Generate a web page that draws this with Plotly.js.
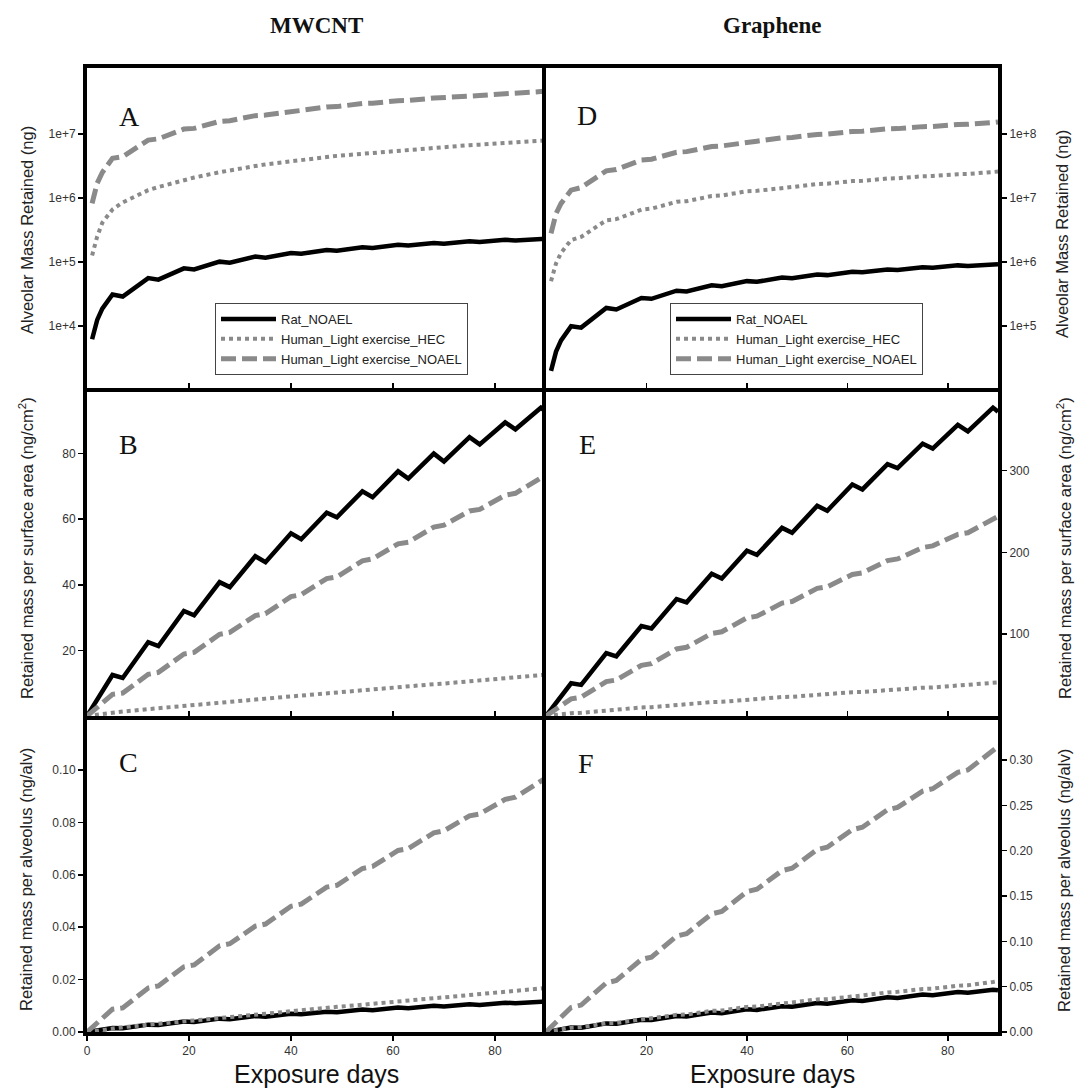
<!DOCTYPE html>
<html><head><meta charset="utf-8">
<script src="https://cdn.plot.ly/plotly-3.0.1.min.js"></script>
<style>html,body{margin:0;padding:0;background:#fff}#chart{width:1075px;height:1089px}</style>
</head><body><div id="chart"></div>
<script>
// Exposure days (day 0 used only on linear panels)
const days = [0,1,2,3,5,7,12,14,19,21,26,28,33,35,40,42,47,49,54,56,61,63,68,70,75,77,82,84,89,90];
const seriesNames = ["Rat_NOAEL", "Human_Light exercise_HEC", "Human_Light exercise_NOAEL"];
const columnTitles = ["MWCNT", "Graphene"];
const panelLetters = ["A", "B", "C", "D", "E", "F"];

// ---- MWCNT: alveolar mass retained (ng), from day 1 ----
const ratMW_mass   = [6.2e3,1.24e4,1.86e4,3.1e4,2.88e4,5.58e4,5.28e4,7.94e4,7.61e4,1.01e5,9.75e4,1.21e5,1.16e5,1.38e5,1.34e5,1.54e5,1.50e5,1.70e5,1.65e5,1.85e5,1.80e5,1.98e5,1.92e5,2.11e5,2.05e5,2.22e5,2.17e5,2.33e5,2.30e5];
const hecMW_mass   = [1.26e5,2.5e5,4.1e5,6.6e5,8.5e5,1.32e6,1.48e6,1.89e6,2.08e6,2.52e6,2.71e6,3.15e6,3.34e6,3.78e6,3.97e6,4.35e6,4.54e6,4.91e6,5.10e6,5.54e6,5.67e6,6.11e6,6.24e6,6.68e6,6.80e6,7.25e6,7.37e6,7.81e6,7.94e6];
const noaelMW_mass = [8.2e5,1.7e6,2.5e6,4.16e6,4.41e6,8.0e6,8.38e6,1.19e7,1.22e7,1.57e7,1.61e7,1.93e7,1.97e7,2.29e7,2.33e7,2.64e7,2.67e7,2.98e7,3.02e7,3.31e7,3.34e7,3.63e7,3.67e7,3.94e7,3.97e7,4.24e7,4.28e7,4.58e7,4.63e7];
// ---- MWCNT: retained mass per surface area (ng/cm2) ----
const ratMW_area   = [0,2.5,5,7.5,12.5,11.6,22.5,21.3,32,30.7,40.8,39.3,48.7,46.9,55.7,53.9,62,60.6,68.5,66.7,74.6,72.4,80,77.6,85,82.8,89.5,87.4,94,92.8];
const hecMW_area   = [0,0.2,0.4,0.65,1.05,1.35,2.1,2.35,3.0,3.3,4.0,4.3,5.0,5.3,6.0,6.3,6.9,7.2,7.8,8.1,8.8,9.0,9.7,9.9,10.6,10.8,11.5,11.7,12.4,12.6];
const noaelMW_area = [0,1.3,2.7,4.0,6.6,7.0,12.7,13.3,18.9,19.4,24.9,25.5,30.6,31.2,36.4,37.0,41.9,42.4,47.3,47.9,52.5,53.0,57.6,58.2,62.5,63.0,67.3,67.9,72.7,73.5];
// ---- MWCNT: retained mass per alveolus (ng/alv) ----
const ratMW_alv   = [0,0.0003,0.0006,0.00094,0.00156,0.00145,0.00281,0.00266,0.0040,0.00384,0.0051,0.00491,0.00609,0.00586,0.00696,0.00674,0.00775,0.00758,0.00856,0.00834,0.00933,0.00905,0.0100,0.0097,0.01063,0.01035,0.01119,0.01093,0.01175,0.0116];
const hecMW_alv   = [0,0.00027,0.00053,0.00086,0.0014,0.0018,0.0028,0.0031,0.0040,0.0044,0.0053,0.0057,0.0067,0.0070,0.0080,0.0084,0.0092,0.0096,0.0104,0.0108,0.0117,0.0120,0.0129,0.0132,0.0141,0.0144,0.0153,0.0156,0.0165,0.0168];
const noaelMW_alv = [0,0.0017,0.0036,0.0053,0.0087,0.0092,0.0168,0.0176,0.0249,0.0256,0.0329,0.0337,0.0404,0.0412,0.0480,0.0488,0.0553,0.0560,0.0624,0.0632,0.0693,0.0700,0.0760,0.0768,0.0825,0.0832,0.0888,0.0896,0.0960,0.0970];

// ---- Graphene: alveolar mass retained (ng), from day 1 ----
const ratGR_mass   = [1.98e4,3.97e4,5.95e4,9.9e4,9.4e4,1.91e5,1.81e5,2.73e5,2.65e5,3.55e5,3.45e5,4.32e5,4.17e5,5.01e5,4.89e5,5.70e5,5.56e5,6.37e5,6.22e5,7.02e5,6.87e5,7.64e5,7.51e5,8.26e5,8.11e5,8.83e5,8.63e5,9.35e5,9.23e5];
const hecGR_mass   = [5.0e5,9.5e5,1.39e6,2.2e6,2.46e6,4.47e6,4.66e6,6.55e6,6.80e6,8.69e6,8.88e6,1.07e7,1.09e7,1.27e7,1.29e7,1.46e7,1.48e7,1.65e7,1.67e7,1.83e7,1.85e7,2.01e7,2.03e7,2.18e7,2.20e7,2.35e7,2.37e7,2.54e7,2.58e7];
const noaelGR_mass = [2.8e6,5.7e6,8.2e6,1.32e7,1.45e7,2.65e7,2.77e7,3.91e7,4.03e7,5.17e7,5.29e7,6.36e7,6.49e7,7.56e7,7.69e7,8.69e7,8.82e7,9.83e7,9.95e7,1.09e8,1.10e8,1.20e8,1.21e8,1.30e8,1.31e8,1.40e8,1.41e8,1.51e8,1.54e8];
// ---- Graphene: retained mass per surface area (ng/cm2) ----
const ratGR_area   = [0,8,16,24,40,38,77,73,110,107,143,139,174,168,202,197,230,224,257,251,283,277,308,303,333,327,356,348,377,372];
const hecGR_area   = [0,0.8,1.5,2.2,3.5,3.9,7.1,7.4,10.4,10.8,13.8,14.1,17.0,17.3,20.2,20.5,23.2,23.5,26.2,26.5,29.1,29.4,31.9,32.3,34.6,34.9,37.3,37.6,40.3,41.0];
const noaelGR_area = [0,4.5,9,13,21,23,42,44,62,64,82,84,101,103,120,122,138,140,156,158,173,175,190,192,206,208,222,224,240,244];
// ---- Graphene: retained mass per alveolus (ng/alv) ----
const ratGR_alv   = [0,0.0010,0.0020,0.0030,0.0050,0.0047,0.0095,0.0091,0.0136,0.0133,0.0177,0.0172,0.0216,0.0208,0.0250,0.0244,0.0285,0.0278,0.0319,0.0311,0.0351,0.0343,0.0382,0.0376,0.0413,0.0405,0.0441,0.0432,0.0467,0.0461];
const hecGR_alv   = [0,0.0011,0.0021,0.0030,0.0048,0.0053,0.0097,0.0101,0.0142,0.0148,0.0189,0.0193,0.0233,0.0237,0.0277,0.0281,0.0318,0.0322,0.0359,0.0363,0.0399,0.0403,0.0437,0.0443,0.0474,0.0478,0.0511,0.0515,0.0552,0.0562];
const noaelGR_alv = [0,0.0058,0.0116,0.0168,0.0271,0.0297,0.0542,0.0568,0.080,0.0826,0.1058,0.1084,0.1303,0.1329,0.1548,0.1574,0.178,0.1806,0.2012,0.2038,0.2232,0.2258,0.2451,0.2477,0.2657,0.2683,0.2864,0.289,0.3096,0.3148];

// tick values / labels
const xTicksLeft = [0,20,40,60,80];
const xTicksRight = [20,40,60,80];
const logTicksA = [1e4,1e5,1e6,1e7], logTextA = ["1e+4","1e+5","1e+6","1e+7"];
const logTicksD = [1e5,1e6,1e7,1e8], logTextD = ["1e+5","1e+6","1e+7","1e+8"];
const ticksB = [20,40,60,80], ticksE = [100,200,300];
const ticksC = [0,0.02,0.04,0.06,0.08,0.10], ticksF = [0,0.05,0.10,0.15,0.20,0.25,0.30];

// ---------------- layout helpers ----------------
const W = 1075, H = 1089;
const px = v => v / W, py = v => 1 - v / H;
const xL = [px(87), px(546)], xR = [px(546), px(998)];
const yTop = [py(388), py(68)], yMid = [py(716), py(388)], yBot = [py(1032), py(716)];
const daysLog = days.slice(1);

const GREY = '#8a8a8a';
const styles = [
  {color:'#000', width:4.5, dash:'solid'},
  {color:GREY, width:4, dash:'dot'},
  {color:GREY, width:5, dash:'15px,6px'}
];
function mk(x, ys, xa, ya, legend, show) {
  return ys.map((y, i) => ({
    type:'scatter', mode:'lines', x:x, y:y, xaxis:xa, yaxis:ya,
    name:seriesNames[i], line:styles[i], showlegend:show, legend:legend,
    hoverinfo:'skip'
  }));
}
const data = [].concat(
  mk(daysLog, [ratMW_mass, hecMW_mass, noaelMW_mass], 'x', 'y', 'legend', true),
  mk(days, [ratMW_area, hecMW_area, noaelMW_area], 'x2', 'y2', 'legend', false),
  mk(days, [ratMW_alv, hecMW_alv, noaelMW_alv], 'x3', 'y3', 'legend', false),
  mk(daysLog, [ratGR_mass, hecGR_mass, noaelGR_mass], 'x4', 'y4', 'legend2', true),
  mk(days, [ratGR_area, hecGR_area, noaelGR_area], 'x5', 'y5', 'legend2', false),
  mk(days, [ratGR_alv, hecGR_alv, noaelGR_alv], 'x6', 'y6', 'legend2', false)
);

const SANS = 'Liberation Sans, Arial, sans-serif';
const SERIF = 'Liberation Serif, Times New Roman, serif';
const tickfont = {family:SANS, size:12, color:'#333'};
const base = {showline:true, linecolor:'#000', linewidth:4, showgrid:false,
  zeroline:false, ticklen:5, tickwidth:1.5, tickcolor:'#000', tickfont:tickfont, fixedrange:true};
function xa(domain, anchor, bottom, mirror, vals) {
  return Object.assign({}, base, {domain:domain, anchor:anchor, range:[0,90], mirror:mirror,
    tickvals:vals, tickmode:'array',
    ticks: bottom ? 'outside' : 'inside', showticklabels: bottom});
}
function ya(domain, anchor, side, mirror, extra) {
  return Object.assign({}, base, {domain:domain, anchor:anchor, side:side, mirror:mirror,
    ticks:'outside', tickmode:'array'}, extra);
}

const legendBase = {xanchor:'left', yanchor:'top', bgcolor:'#fff', bordercolor:'#444', borderwidth:1,
  font:{family:SANS, size:13, color:'#222'}, itemwidth:55, tracegroupgap:0, orientation:'v'};

const ann = [];
function addText(text, x, y, font, angle) {
  ann.push({text:text, x:px(x), y:py(y), xref:'paper', yref:'paper', showarrow:false,
    xanchor:'center', yanchor:'middle', font:font, textangle:angle || 0});
}
const letterFont = {family:SERIF, size:28, color:'#111'};
addText(panelLetters[0], 129, 116, letterFont);
addText(panelLetters[1], 128, 445, letterFont);
addText(panelLetters[2], 128, 762, letterFont);
addText(panelLetters[3], 587, 115, letterFont);
addText(panelLetters[4], 587, 445, letterFont);
addText(panelLetters[5], 586, 763, letterFont);
const colFont = {family:SERIF, size:23, color:'#111'};
addText('<b>' + columnTitles[0] + '</b>', 316, 25, colFont);
addText('<b>' + columnTitles[1] + '</b>', 772, 25, colFont);
const yTitleFont = {family:SANS, size:16.5, color:'#222'};
const yTitles = ['Alveolar Mass Retained (ng)', 'Retained mass per surface area (ng/cm<sup>2</sup>)', 'Retained mass per alveolus (ng/alv)'];
addText(yTitles[0], 27, 230, yTitleFont, -90);
addText(yTitles[1], 26, 548, yTitleFont, -90);
addText(yTitles[2], 26, 880, yTitleFont, -90);
addText(yTitles[0], 1062, 234, yTitleFont, -90);
addText(yTitles[1], 1064, 548, yTitleFont, -90);
addText(yTitles[2], 1064, 881, yTitleFont, -90);
const xTitleFont = {family:SANS, size:25, color:'#111'};
addText('Exposure days', 316, 1074, xTitleFont);
addText('Exposure days', 772, 1074, xTitleFont);

const layout = {
  width:W, height:H, margin:{l:0, r:0, t:0, b:0}, paper_bgcolor:'#fff', plot_bgcolor:'#fff',
  showlegend:true,
  legend: Object.assign({}, legendBase, {x:px(215), y:py(303)}),
  legend2: Object.assign({}, legendBase, {x:px(670), y:py(303)}),
  // top panels draw their top and bottom edges; lower panels only their bottom edge
  xaxis:  xa(xL, 'y',  false, true,  xTicksLeft),
  xaxis2: xa(xL, 'y2', false, false, xTicksLeft),
  xaxis3: xa(xL, 'y3', true,  false, xTicksLeft),
  xaxis4: xa(xR, 'y4', false, true,  xTicksLeft),
  xaxis5: xa(xR, 'y5', false, false, xTicksLeft),
  xaxis6: xa(xR, 'y6', true,  false, xTicksRight),
  // left panels draw only their left edge; right panels draw both sides
  yaxis:  ya(yTop, 'x', 'left', false, {type:'log', range:[3.03, 8.03], tickvals:logTicksA, ticktext:logTextA}),
  yaxis2: ya(yMid, 'x2', 'left', false, {range:[0, 100], tickvals:ticksB}),
  yaxis3: ya(yBot, 'x3', 'left', false, {range:[0, 0.1206], tickvals:ticksC, tickformat:'.2f'}),
  yaxis4: ya(yTop, 'x4', 'right', true, {type:'log', range:[4.03, 9.03], tickvals:logTicksD, ticktext:logTextD}),
  yaxis5: ya(yMid, 'x5', 'right', true, {range:[0, 401], tickvals:ticksE}),
  yaxis6: ya(yBot, 'x6', 'right', true, {range:[0, 0.3485], tickvals:ticksF, tickformat:'.2f'}),
  annotations: ann
};
Plotly.newPlot('chart', data, layout, {displayModeBar:false, staticPlot:true});
</script></body></html>
